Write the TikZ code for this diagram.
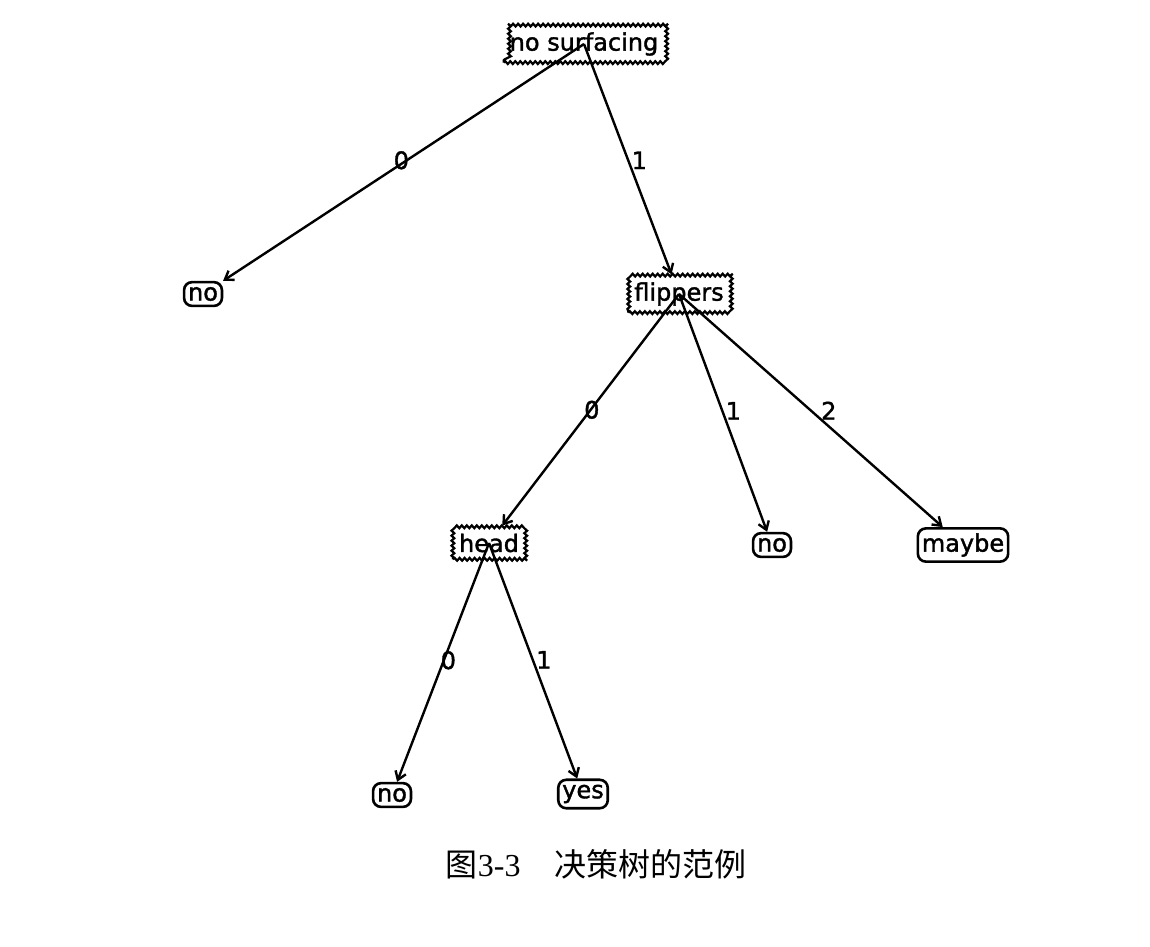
\documentclass[tikz,border=0pt]{standalone}
\usepackage{fontspec}
\setmainfont[FakeBold=1.5]{DejaVu Sans}
\newfontfamily\cjk{Noto Sans CJK SC}
\newfontfamily\capserif{Liberation Serif}
\usetikzlibrary{decorations.pathmorphing,arrows.meta,calc}
\begin{document}
\begin{tikzpicture}[x=1pt,y=-1pt,
  treefont/.style={font=\fontsize{24}{28}\selectfont},
  decnode/.style={treefont, draw, line width=2.2pt, fill=white, inner xsep=6pt, inner ysep=7pt,
     decorate, decoration={snake, segment length=5pt, amplitude=1.4pt}},
  leafnode/.style={treefont, draw, line width=2.6pt, fill=white, rounded corners=8pt, inner xsep=4pt, inner ysep=5pt},
  edge/.style={line width=2.4pt, -{Straight Barb[length=8pt,width=11pt,line width=2.4pt]}},
  lab/.style={treefont, anchor=base west, inner sep=0pt}]
\useasboundingbox (0,0) rectangle (1150,946);
% nodes
\node[decnode] (ns) at (584,44) {no surfacing};
\node[leafnode] (noL) at (203,294) {no};
\node[decnode] (fl) at (679,294) {flippers};
\node[decnode] (hd) at (489,543) {head};
\node[leafnode] (noM) at (772,545) {no};
\node[leafnode] (mb) at (963,545) {maybe};
\node[leafnode] (noB) at (392,795) {no};
\node[leafnode] (ys) at (583,794) {yes};
% edges
\draw[edge] (ns.center) -- (noL);
\draw[edge] (ns.center) -- (fl);
\draw[edge] (fl.center) -- (hd);
\draw[edge] (fl.center) -- (noM);
\draw[edge] (fl.center) -- (mb);
\draw[edge] (hd.center) -- (noB);
\draw[edge] (hd.center) -- (ys);
% labels
\node[lab] (l1) at ($(ns.center)!0.5!(noL.center)$) {0};
\node[lab] (l2) at ($(ns.center)!0.5!(fl.center)$) {1};
\node[lab] (l3) at ($(fl.center)!0.5!(hd.center)$) {0};
\node[lab] (l4) at ($(fl.center)!0.5!(noM.center)$) {1};
\node[lab] (l5) at ($(fl.center)!0.5!(mb.center)$) {2};
\node[lab] (l6) at ($(hd.center)!0.5!(noB.center)$) {0};
\node[lab] (l7) at ($(hd.center)!0.5!(ys.center)$) {1};
% caption
\node[font=\fontsize{32}{36}\selectfont, inner sep=0pt] (cap) at (596,864)
  {{\cjk 图}{\capserif 3-3}\hspace{1.05em}{\cjk 决策树的范例}};
\end{tikzpicture}
\end{document}
